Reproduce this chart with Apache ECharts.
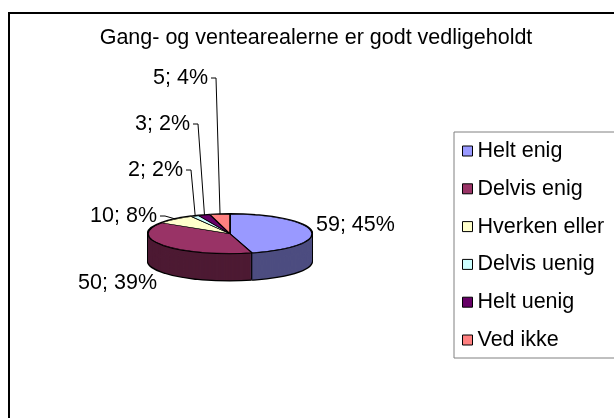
<!DOCTYPE html>
<html>
<head>
<meta charset="utf-8">
<title>Gang- og ventearealerne er godt vedligeholdt</title>
<script src="https://cdn.jsdelivr.net/npm/echarts@6/dist/echarts.min.js"></script>
<style>
    html, body { margin: 0; padding: 0; background: #fff; }
    #wrap { position: relative; width: 614px; height: 418px; overflow: hidden; }
    #pie { position: absolute; left: 130px; width: 200px; height: 320px; transform-origin: 0 0; }
    #chart { position: absolute; left: 0; top: 0; width: 614px; height: 418px; }
</style>
</head>
<body>
<div id="wrap">
    <div id="pie"></div>
    <div id="chart"></div>
</div>
<script>
// data
var categories = ['Helt enig', 'Delvis enig', 'Hverken eller', 'Delvis uenig', 'Helt uenig', 'Ved ikke'];
var values = [59, 50, 10, 2, 3, 5];
var percents = [45, 39, 8, 2, 2, 4];
var topColors = ['#9999FF', '#993366', '#FFFFCC', '#CCFFFF', '#660066', '#FF8080'];
var sideColors = ['#4D4D80', '#4D1A33', '#808066', '#668080', '#330033', '#804040'];

var FONT = "'Liberation Sans', Arial, sans-serif";
var FS = 21.5;

// 3d look: the pie is drawn round and squashed with css, the depth is stacked layers
var RX = 82, RY = 19.5, DEPTH = 27;
var S = RY / RX;              // vertical squash
var STEP = 1 / S;             // one screen pixel, in unsquashed units
var CX = 100, CY = 100;       // pie centre inside its own box
var PIE_LEFT = 130, PIE_TOP = 233.5 - CY * S;

var pieDom = document.getElementById('pie');
pieDom.style.top = PIE_TOP + 'px';
pieDom.style.transform = 'scaleY(' + S + ')';

function pieLayer(k, colors, r, style) {
    return {
        type: 'pie',
        silent: true,
        animation: false,
        center: [CX, CY + k * STEP],
        radius: r,
        startAngle: 90,
        clockwise: true,
        label: {show: false},
        labelLine: {show: false},
        emphasis: {disabled: true},
        itemStyle: style || {borderWidth: 0},
        data: values.map(function (v, i) {
            return {name: categories[i], value: v, itemStyle: {color: colors[i]}};
        })
    };
}

var black = categories.map(function () { return '#000'; });
var N = Math.round(DEPTH);
var pieSeries = [];
// black outline behind everything
for (var k = N + 1; k >= -1; k--) {
    pieSeries.push(pieLayer(k, black, RX + 1));
}
// side walls, bottom first
for (var k = N; k >= 1; k--) {
    pieSeries.push(pieLayer(k, sideColors, RX));
}
// edge line under the top face
pieSeries.push(pieLayer(1, black, RX));
// top face
pieSeries.push(pieLayer(0, topColors, RX, {borderColor: '#000', borderWidth: 1.6}));

var pieChart = echarts.init(pieDom, null, {renderer: 'svg'});
pieChart.setOption({animation: false, series: pieSeries});

// positions from the pie layout, in page pixels
var topData = pieChart.getModel().getSeriesByIndex(pieSeries.length - 1).getData();
function edgePoint(angle) {
    var lay = topData.getItemLayout(0);
    return [PIE_LEFT + lay.cx + lay.r * Math.cos(angle), PIE_TOP + (lay.cy + lay.r * Math.sin(angle)) * S];
}

// where each data label sits (Excel's hand placed labels)
var labelPos = [
    {x: 316, y: 225, align: 'left', leader: false},
    {x: 157, y: 283, align: 'right', leader: false},
    {x: 157, y: 216, align: 'right', leader: true},
    {x: 183, y: 170, align: 'right', leader: true},
    {x: 190, y: 124, align: 'right', leader: true},
    {x: 208, y: 78, align: 'right', leader: true}
];

var graphics = [{
    type: 'rect', silent: true,
    shape: {x: 9, y: 13, width: 800, height: 600},
    style: {fill: 'none', stroke: '#000', lineWidth: 2}
}];

for (var i = 0; i < values.length; i++) {
    var lay = topData.getItemLayout(i);
    var p = labelPos[i];
    graphics.push({
        type: 'text', silent: true, x: p.x, y: p.y,
        style: {
            text: values[i] + '; ' + percents[i] + '%',
            fill: '#000', font: FS + 'px ' + FONT,
            align: p.align, verticalAlign: 'middle'
        }
    });
    if (p.leader) {
        var a = edgePoint((lay.startAngle + lay.endAngle) / 2);
        graphics.push({
            type: 'polyline', silent: true,
            shape: {points: [[p.x + 3, p.y], [p.x + 8, p.y], a]},
            style: {fill: 'none', stroke: '#000', lineWidth: 1}
        });
    }
    // vertical edge where two slices meet on the front wall
    if (Math.sin(lay.endAngle) > 0.1) {
        var e = edgePoint(lay.endAngle);
        graphics.push({
            type: 'line', silent: true,
            shape: {x1: e[0], y1: e[1], x2: e[0], y2: e[1] + DEPTH},
            style: {stroke: '#000', lineWidth: 1.2}
        });
    }
}

var chart = echarts.init(document.getElementById('chart'));
chart.setOption({
    animation: false,
    title: {
        text: 'Gang- og ventearealerne er godt vedligeholdt',
        left: 316, top: 27, textAlign: 'center', padding: 0,
        textStyle: {fontFamily: FONT, fontSize: FS, fontWeight: 'normal', color: '#000'}
    },
    legend: {
        orient: 'vertical',
        left: 454, top: 132,
        padding: [7, 60, 6, 8],
        itemGap: 13.8,
        itemWidth: 10, itemHeight: 10,
        icon: 'rect',
        selectedMode: false,
        borderColor: '#808080', borderWidth: 1,
        itemStyle: {borderColor: '#000', borderWidth: 1},
        textStyle: {fontFamily: FONT, fontSize: FS, lineHeight: 24, color: '#000'},
        data: categories
    },
    series: [{
        // only feeds the legend, drawn off screen
        type: 'pie', silent: true,
        center: [-300, -300], radius: 10,
        label: {show: false}, labelLine: {show: false},
        data: values.map(function (v, i) {
            return {name: categories[i], value: v, itemStyle: {color: topColors[i]}};
        })
    }],
    graphic: graphics
});
</script>
</body>
</html>
